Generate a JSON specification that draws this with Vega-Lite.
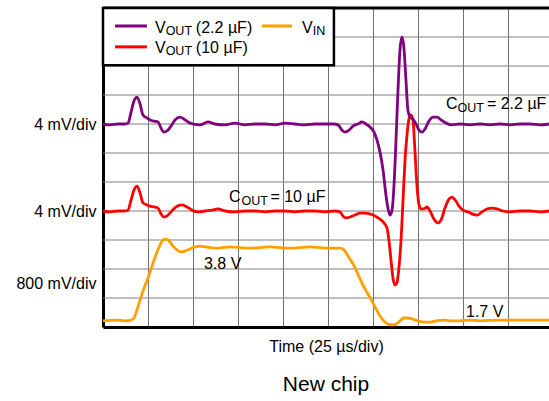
{
 "$schema": "https://vega.github.io/schema/vega-lite/v6.json",
 "width": 446, "height": 319,
 "autosize": "none",
 "padding": {"left": 103, "top": 8, "right": 0, "bottom": 74},
 "background": "white",
 "config": {"view": {"stroke": null}, "font": "Liberation Sans"},
 "title": {"text": "New chip", "orient": "bottom", "anchor": "middle", "fontSize": 21, "fontWeight": "normal", "color": "black", "font": "Liberation Sans", "offset": 20},
 "datasets": {
  "one": [{"k": 1}],
  "hgrid": [{"g":1},{"g":2},{"g":3},{"g":4},{"g":5},{"g":6},{"g":7},{"g":8},{"g":9},{"g":10}],
  "traces": [
   {"s":"vin","t":0,"v":0.21},{"s":"vin","t":6.7,"v":0.24},{"s":"vin","t":12.2,"v":0.21},{"s":"vin","t":15.6,"v":0.24},{"s":"vin","t":17.2,"v":0.31},{"s":"vin","t":18.9,"v":0.59},{"s":"vin","t":20.6,"v":0.93},{"s":"vin","t":22.8,"v":1.34},{"s":"vin","t":25.0,"v":1.69},{"s":"vin","t":27.2,"v":2.10},{"s":"vin","t":29.4,"v":2.48},{"s":"vin","t":31.7,"v":2.83},{"s":"vin","t":33.3,"v":3.00},{"s":"vin","t":35.0,"v":3.03},{"s":"vin","t":36.7,"v":2.97},{"s":"vin","t":38.9,"v":2.79},{"s":"vin","t":41.1,"v":2.66},{"s":"vin","t":43.3,"v":2.59},{"s":"vin","t":45.6,"v":2.62},{"s":"vin","t":48.3,"v":2.69},{"s":"vin","t":51.1,"v":2.76},{"s":"vin","t":53.9,"v":2.79},{"s":"vin","t":57.2,"v":2.76},{"s":"vin","t":62.2,"v":2.72},{"s":"vin","t":70.6,"v":2.76},{"s":"vin","t":81.7,"v":2.72},{"s":"vin","t":92.8,"v":2.76},{"s":"vin","t":103.9,"v":2.72},{"s":"vin","t":115.0,"v":2.76},{"s":"vin","t":126.1,"v":2.72},{"s":"vin","t":131.7,"v":2.72},{"s":"vin","t":133.9,"v":2.66},{"s":"vin","t":136.1,"v":2.45},{"s":"vin","t":138.3,"v":2.24},{"s":"vin","t":140.6,"v":1.97},{"s":"vin","t":142.8,"v":1.66},{"s":"vin","t":145.0,"v":1.38},{"s":"vin","t":147.2,"v":1.14},{"s":"vin","t":149.4,"v":0.90},{"s":"vin","t":151.7,"v":0.62},{"s":"vin","t":153.9,"v":0.38},{"s":"vin","t":156.1,"v":0.21},{"s":"vin","t":158.3,"v":0.10},{"s":"vin","t":160.6,"v":0.07},{"s":"vin","t":162.8,"v":0.10},{"s":"vin","t":165.0,"v":0.21},{"s":"vin","t":167.2,"v":0.31},{"s":"vin","t":169.4,"v":0.31},{"s":"vin","t":171.7,"v":0.28},{"s":"vin","t":175.0,"v":0.21},{"s":"vin","t":178.3,"v":0.17},{"s":"vin","t":181.7,"v":0.17},{"s":"vin","t":185.0,"v":0.21},{"s":"vin","t":188.9,"v":0.24},{"s":"vin","t":192.8,"v":0.21},{"s":"vin","t":198.3,"v":0.21},{"s":"vin","t":203.9,"v":0.24},{"s":"vin","t":209.4,"v":0.21},{"s":"vin","t":220.6,"v":0.24},{"s":"vin","t":231.7,"v":0.24},{"s":"vin","t":247.8,"v":0.24},
   {"s":"10","t":0,"v":4.00},{"s":"10","t":3.9,"v":3.97},{"s":"10","t":8.3,"v":4.00},{"s":"10","t":12.2,"v":4.00},{"s":"10","t":13.9,"v":4.03},{"s":"10","t":15.6,"v":4.38},{"s":"10","t":17.2,"v":4.72},{"s":"10","t":18.9,"v":4.86},{"s":"10","t":20.6,"v":4.62},{"s":"10","t":22.2,"v":4.28},{"s":"10","t":24.4,"v":4.21},{"s":"10","t":26.1,"v":4.17},{"s":"10","t":28.3,"v":4.14},{"s":"10","t":30.6,"v":4.10},{"s":"10","t":32.2,"v":3.90},{"s":"10","t":33.9,"v":3.79},{"s":"10","t":35.6,"v":3.83},{"s":"10","t":37.8,"v":3.97},{"s":"10","t":40.6,"v":4.14},{"s":"10","t":43.9,"v":4.21},{"s":"10","t":46.7,"v":4.14},{"s":"10","t":49.4,"v":4.03},{"s":"10","t":52.8,"v":3.97},{"s":"10","t":56.7,"v":4.00},{"s":"10","t":60.6,"v":4.03},{"s":"10","t":63.9,"v":4.07},{"s":"10","t":67.8,"v":4.00},{"s":"10","t":73.3,"v":3.97},{"s":"10","t":78.9,"v":4.00},{"s":"10","t":84.4,"v":4.00},{"s":"10","t":90.0,"v":3.97},{"s":"10","t":95.6,"v":4.00},{"s":"10","t":101.1,"v":4.00},{"s":"10","t":106.7,"v":3.97},{"s":"10","t":112.2,"v":4.00},{"s":"10","t":117.8,"v":4.00},{"s":"10","t":123.3,"v":3.97},{"s":"10","t":128.9,"v":4.00},{"s":"10","t":131.7,"v":3.97},{"s":"10","t":133.3,"v":3.83},{"s":"10","t":135.0,"v":3.76},{"s":"10","t":137.2,"v":3.79},{"s":"10","t":140.0,"v":3.86},{"s":"10","t":142.8,"v":3.93},{"s":"10","t":145.6,"v":3.93},{"s":"10","t":148.3,"v":3.90},{"s":"10","t":151.1,"v":3.83},{"s":"10","t":153.9,"v":3.72},{"s":"10","t":156.1,"v":3.59},{"s":"10","t":157.8,"v":3.41},{"s":"10","t":158.9,"v":2.97},{"s":"10","t":160.0,"v":2.31},{"s":"10","t":161.1,"v":1.69},{"s":"10","t":162.2,"v":1.45},{"s":"10","t":163.3,"v":1.52},{"s":"10","t":164.4,"v":2.03},{"s":"10","t":165.6,"v":3.00},{"s":"10","t":166.7,"v":4.38},{"s":"10","t":167.8,"v":5.76},{"s":"10","t":168.9,"v":6.62},{"s":"10","t":170.0,"v":7.17},{"s":"10","t":171.1,"v":7.31},{"s":"10","t":172.2,"v":7.14},{"s":"10","t":173.3,"v":6.10},{"s":"10","t":174.4,"v":4.90},{"s":"10","t":175.6,"v":4.21},{"s":"10","t":176.7,"v":4.07},{"s":"10","t":178.3,"v":4.07},{"s":"10","t":180.0,"v":4.14},{"s":"10","t":181.7,"v":4.00},{"s":"10","t":183.9,"v":3.72},{"s":"10","t":186.1,"v":3.59},{"s":"10","t":187.8,"v":3.69},{"s":"10","t":190.0,"v":4.10},{"s":"10","t":192.2,"v":4.41},{"s":"10","t":193.9,"v":4.48},{"s":"10","t":195.6,"v":4.38},{"s":"10","t":197.8,"v":4.17},{"s":"10","t":200.0,"v":4.03},{"s":"10","t":202.8,"v":3.97},{"s":"10","t":205.0,"v":3.90},{"s":"10","t":207.8,"v":3.86},{"s":"10","t":210.6,"v":3.97},{"s":"10","t":213.3,"v":4.07},{"s":"10","t":216.1,"v":4.10},{"s":"10","t":218.9,"v":4.07},{"s":"10","t":222.2,"v":4.00},{"s":"10","t":226.1,"v":3.97},{"s":"10","t":231.7,"v":4.00},{"s":"10","t":237.2,"v":4.00},{"s":"10","t":242.8,"v":3.97},{"s":"10","t":247.8,"v":4.00},
   {"s":"2.2","t":0,"v":7.00},{"s":"2.2","t":3.9,"v":6.97},{"s":"2.2","t":8.3,"v":7.00},{"s":"2.2","t":12.2,"v":7.00},{"s":"2.2","t":13.9,"v":7.03},{"s":"2.2","t":15.6,"v":7.41},{"s":"2.2","t":17.2,"v":7.79},{"s":"2.2","t":18.9,"v":7.93},{"s":"2.2","t":20.6,"v":7.69},{"s":"2.2","t":22.2,"v":7.31},{"s":"2.2","t":24.4,"v":7.21},{"s":"2.2","t":26.1,"v":7.14},{"s":"2.2","t":28.3,"v":7.10},{"s":"2.2","t":30.6,"v":7.07},{"s":"2.2","t":32.2,"v":6.86},{"s":"2.2","t":33.9,"v":6.72},{"s":"2.2","t":35.6,"v":6.76},{"s":"2.2","t":37.8,"v":6.93},{"s":"2.2","t":40.0,"v":7.14},{"s":"2.2","t":42.8,"v":7.24},{"s":"2.2","t":45.0,"v":7.17},{"s":"2.2","t":47.2,"v":7.07},{"s":"2.2","t":50.0,"v":7.00},{"s":"2.2","t":53.9,"v":6.97},{"s":"2.2","t":58.3,"v":7.07},{"s":"2.2","t":62.2,"v":7.00},{"s":"2.2","t":67.8,"v":6.97},{"s":"2.2","t":73.3,"v":7.03},{"s":"2.2","t":78.9,"v":6.97},{"s":"2.2","t":84.4,"v":7.00},{"s":"2.2","t":90.0,"v":7.00},{"s":"2.2","t":95.6,"v":6.97},{"s":"2.2","t":101.1,"v":7.03},{"s":"2.2","t":106.7,"v":7.00},{"s":"2.2","t":112.2,"v":6.97},{"s":"2.2","t":117.8,"v":7.00},{"s":"2.2","t":123.3,"v":7.00},{"s":"2.2","t":128.3,"v":7.00},{"s":"2.2","t":130.6,"v":6.97},{"s":"2.2","t":132.8,"v":6.79},{"s":"2.2","t":134.4,"v":6.72},{"s":"2.2","t":136.7,"v":6.79},{"s":"2.2","t":138.9,"v":6.93},{"s":"2.2","t":141.7,"v":7.00},{"s":"2.2","t":143.9,"v":7.07},{"s":"2.2","t":146.1,"v":7.00},{"s":"2.2","t":148.3,"v":6.90},{"s":"2.2","t":150.6,"v":6.72},{"s":"2.2","t":152.2,"v":6.45},{"s":"2.2","t":153.9,"v":6.03},{"s":"2.2","t":155.6,"v":5.41},{"s":"2.2","t":157.2,"v":4.55},{"s":"2.2","t":158.3,"v":4.10},{"s":"2.2","t":159.4,"v":3.86},{"s":"2.2","t":160.6,"v":4.03},{"s":"2.2","t":161.7,"v":4.90},{"s":"2.2","t":162.8,"v":6.45},{"s":"2.2","t":163.9,"v":8.17},{"s":"2.2","t":165.0,"v":9.55},{"s":"2.2","t":166.1,"v":10.00},{"s":"2.2","t":167.2,"v":9.62},{"s":"2.2","t":168.3,"v":8.55},{"s":"2.2","t":169.4,"v":7.48},{"s":"2.2","t":170.6,"v":7.24},{"s":"2.2","t":172.2,"v":7.17},{"s":"2.2","t":173.9,"v":7.00},{"s":"2.2","t":175.6,"v":6.79},{"s":"2.2","t":177.2,"v":6.72},{"s":"2.2","t":178.9,"v":6.83},{"s":"2.2","t":181.1,"v":7.10},{"s":"2.2","t":183.3,"v":7.24},{"s":"2.2","t":185.6,"v":7.24},{"s":"2.2","t":187.8,"v":7.14},{"s":"2.2","t":190.6,"v":7.03},{"s":"2.2","t":193.9,"v":6.97},{"s":"2.2","t":198.3,"v":7.00},{"s":"2.2","t":203.9,"v":6.97},{"s":"2.2","t":209.4,"v":7.00},{"s":"2.2","t":215.0,"v":6.97},{"s":"2.2","t":220.6,"v":7.00},{"s":"2.2","t":226.1,"v":6.97},{"s":"2.2","t":231.7,"v":7.00},{"s":"2.2","t":237.2,"v":7.00},{"s":"2.2","t":242.8,"v":6.97},{"s":"2.2","t":247.8,"v":7.00}
  ],
  "leg": [
   {"t0":6.7,"t1":24.4,"v":10.38,"s":"2.2"},
   {"t0":6.7,"t1":24.4,"v":9.66,"s":"10"},
   {"t0":88.3,"t1":105,"v":10.38,"s":"vin"}
  ],
  "mainText": [
   {"t":28.9,"v":10.14,"label":"V"},
   {"t":51.6,"v":10.14,"label":"(2.2 µF)"},
   {"t":28.9,"v":9.45,"label":"V"},
   {"t":51.6,"v":9.45,"label":"(10 µF)"},
   {"t":110.6,"v":10.14,"label":"V"},
   {"t":190.6,"v":7.53,"label":"C"},
   {"t":213.3,"v":7.53,"label":"= 2.2 µF"},
   {"t":70.0,"v":4.31,"label":"C"},
   {"t":93.0,"v":4.31,"label":"= 10 µF"},
   {"t":56.1,"v":2.0,"label":"3.8 V"},
   {"t":201.7,"v":0.34,"label":"1.7 V"}
  ],
  "subText": [
   {"t":34.8,"v":10.07,"label":"OUT"},
   {"t":34.8,"v":9.38,"label":"OUT"},
   {"t":116.5,"v":10.07,"label":"IN"},
   {"t":197.0,"v":7.41,"label":"OUT"},
   {"t":77.0,"v":4.19,"label":"OUT"}
  ]
 },
 "layer": [
  {
   "data": {"name": "hgrid"},
   "mark": {"type": "rule", "color": "#808080", "strokeWidth": 1},
   "encoding": {
    "y": {"field": "g", "type": "quantitative",
      "scale": {"domain": [0, 11], "nice": false, "zero": false},
      "axis": {"values": [1.5, 4, 7], "labelExpr": "datum.value == 1.5 ? '800 mV/div' : '4 mV/div'", "ticks": false, "grid": false, "domain": true, "domainColor": "black", "domainWidth": 3, "labelPadding": 7, "labelFontSize": 16, "labelColor": "black", "labelFont": "Liberation Sans", "labelOverlap": false, "labelBound": false, "labelFlush": false, "title": null}}
   }
  },
  {
   "data": {"name": "traces"},
   "mark": {"type": "line", "strokeWidth": 2.8, "interpolate": "monotone"},
   "encoding": {
    "x": {"field": "t", "type": "quantitative",
      "scale": {"domain": [0, 247.8], "nice": false, "zero": false},
      "axis": {"values": [25, 50, 75, 100, 125, 150, 175, 200, 225], "grid": true, "gridColor": "#707070", "gridWidth": 1, "labels": false, "ticks": false, "domain": true, "domainColor": "black", "domainWidth": 3, "title": "Time (25 µs/div)", "titleFontSize": 16, "titleFontWeight": "normal", "titleColor": "black", "titleFont": "Liberation Sans", "titlePadding": 11}},
    "y": {"field": "v", "type": "quantitative"},
    "color": {"field": "s", "type": "nominal", "scale": {"domain": ["2.2", "10", "vin"], "range": ["#800080", "#ff0000", "#ffa000"]}, "legend": null},
    "order": {"field": "t"}
   }
  },
  {
   "data": {"name": "one"},
   "mark": {"type": "rule", "color": "black", "strokeWidth": 3},
   "encoding": {"y": {"datum": 11, "type": "quantitative"}}
  },
  {
   "data": {"name": "one"},
   "mark": {"type": "rect", "fill": "white", "stroke": "black", "strokeWidth": 2.5},
   "encoding": {
    "x": {"datum": 0, "type": "quantitative"},
    "x2": {"datum": 128.3},
    "y": {"datum": 9.03, "type": "quantitative"},
    "y2": {"datum": 11}
   }
  },
  {
   "data": {"name": "leg"},
   "mark": {"type": "rule", "strokeWidth": 3},
   "encoding": {
    "x": {"field": "t0", "type": "quantitative"},
    "x2": {"field": "t1"},
    "y": {"field": "v", "type": "quantitative"},
    "color": {"field": "s", "type": "nominal", "legend": null}
   }
  },
  {
   "data": {"name": "mainText"},
   "mark": {"type": "text", "align": "left", "baseline": "alphabetic", "fontSize": 16, "font": "Liberation Sans", "color": "black"},
   "encoding": {
    "x": {"field": "t", "type": "quantitative"},
    "y": {"field": "v", "type": "quantitative"},
    "text": {"field": "label"}
   }
  },
  {
   "data": {"name": "subText"},
   "mark": {"type": "text", "align": "left", "baseline": "alphabetic", "fontSize": 12.5, "font": "Liberation Sans", "color": "black"},
   "encoding": {
    "x": {"field": "t", "type": "quantitative"},
    "y": {"field": "v", "type": "quantitative"},
    "text": {"field": "label"}
   }
  }
 ]
}
